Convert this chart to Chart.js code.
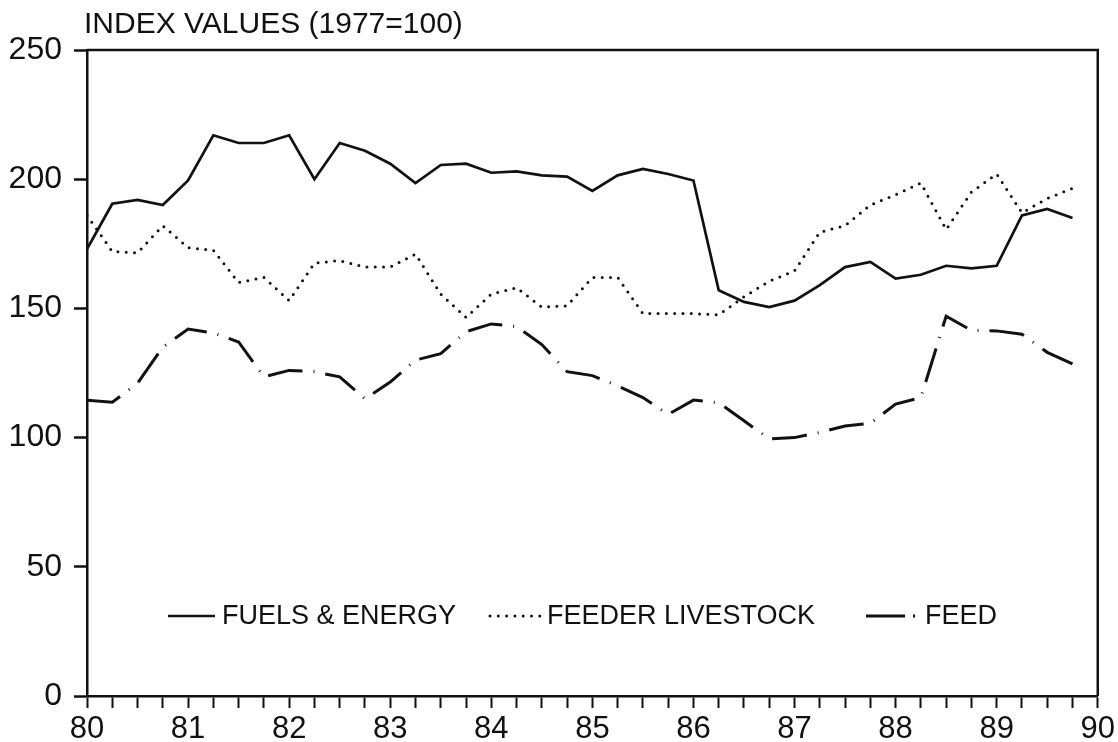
<!DOCTYPE html>
<html>
<head>
<meta charset="utf-8">
<script src="https://cdn.jsdelivr.net/npm/chart.js@4.4.0/dist/chart.umd.min.js"></script>
<style>
  html, body { margin: 0; padding: 0; background: #fff; }
  #wrap { width: 1118px; height: 742px; }
</style>
</head>
<body>
<div id="wrap"><canvas id="chart" width="1118" height="742"></canvas></div>
<script>
// quarters, 1980 to 1989
const quarters = [
  80, 80.25, 80.5, 80.75, 81, 81.25, 81.5, 81.75, 82, 82.25, 82.5, 82.75,
  83, 83.25, 83.5, 83.75, 84, 84.25, 84.5, 84.75, 85, 85.25, 85.5, 85.75,
  86, 86.25, 86.5, 86.75, 87, 87.25, 87.5, 87.75, 88, 88.25, 88.5, 88.75,
  89, 89.25, 89.5, 89.75
];

const fuelsEnergy = [
  173, 190.5, 192, 190, 199.5, 217, 214, 214, 217, 200, 214, 211,
  206, 198.5, 205.5, 206, 202.5, 203, 201.5, 201, 195.5, 201.5, 204, 202,
  199.5, 157, 152.5, 150.5, 153, 159, 166, 168, 161.5, 163, 166.5, 165.5,
  166.5, 186, 188.5, 185
];

const feederLivestock = [
  186, 172, 171.5, 182, 173.5, 172.5, 160, 162, 153, 167.5, 168.5, 166,
  166, 171, 155.5, 146.5, 155.5, 158, 150.5, 151, 162, 162, 148, 148,
  148, 147.5, 154.5, 160.5, 164.5, 179.5, 182, 190, 194, 198.5, 180.5, 195,
  202, 187, 192.5, 196.5
];

const feed = [
  114.5, 113.7, 121, 135, 142, 140.5, 137, 123.5, 126, 125.5, 123.5, 115,
  121.5, 130, 132.5, 141, 144, 143, 136, 125.5, 124, 120, 115.5, 109,
  114.5, 113.5, 106.5, 99.5, 100, 102, 104.5, 105.5, 113, 115.5, 147, 141.5,
  141.3, 140, 133, 128.5
];

const yearTicks = [80, 81, 82, 83, 84, 85, 86, 87, 88, 89, 90];
const seriesNames = ["FUELS & ENERGY", "FEEDER LIVESTOCK", "FEED"];
const chartTitle = "INDEX VALUES (1977=100)";

const FONT = '"Liberation Sans", Arial, Helvetica, sans-serif';
const INK = "#111";

function points(ys) {
  return quarters.map((q, i) => ({ x: q, y: ys[i] }));
}

const lineStyles = [
  { borderWidth: 2.7, borderDash: [], borderCapStyle: "butt" },
  { borderWidth: 3, borderDash: [0, 8.3], borderCapStyle: "round" },
  { borderWidth: 3, borderDash: [35, 11, 1, 11], borderCapStyle: "butt" }
];

// title above the plot, box frame, legend inside the plot
const extras = {
  id: "extras",
  afterDraw(chart) {
    const { ctx, chartArea: a } = chart;
    ctx.save();
    ctx.strokeStyle = INK;
    ctx.lineWidth = 2.5;
    ctx.setLineDash([]);
    ctx.beginPath();
    ctx.moveTo(a.left, a.top);
    ctx.lineTo(a.right, a.top);
    ctx.lineTo(a.right, a.bottom);
    ctx.stroke();

    ctx.fillStyle = INK;
    ctx.font = "30px " + FONT;
    ctx.textBaseline = "middle";
    ctx.textAlign = "left";
    ctx.fillText(chartTitle, a.left - 3, 25);

    const legendY = 616;
    const legendItems = [
      { x1: 168, x2: 215, tx: 222 },
      { x1: 490, x2: 543, tx: 547 },
      { x1: 866, x2: 918, tx: 925 }
    ];
    ctx.font = "27px " + FONT;
    legendItems.forEach((it, i) => {
      const st = lineStyles[i];
      ctx.lineWidth = st.borderWidth;
      ctx.lineCap = st.borderCapStyle;
      ctx.setLineDash(i === 2 ? [39, 8, 2, 8] : st.borderDash);
      ctx.beginPath();
      ctx.moveTo(it.x1, legendY);
      ctx.lineTo(it.x2, legendY);
      ctx.stroke();
      ctx.setLineDash([]);
      ctx.fillText(seriesNames[i], it.tx, legendY + 1);
    });
    ctx.restore();
  }
};

const datasets = [fuelsEnergy, feederLivestock, feed].map((ys, i) => ({
  label: seriesNames[i],
  data: points(ys),
  borderColor: INK,
  backgroundColor: INK,
  pointRadius: 0,
  tension: 0,
  fill: false,
  ...lineStyles[i]
}));

new Chart(document.getElementById("chart"), {
  type: "line",
  data: { datasets },
  options: {
    responsive: false,
    animation: false,
    layout: { padding: { top: 50, right: 19, left: 0, bottom: 0 } },
    plugins: { legend: { display: false }, tooltip: { enabled: false }, title: { display: false } },
    scales: {
      x: {
        type: "linear",
        min: 80,
        max: 90,
        afterFit(scale) { scale.height = 46; },
        ticks: {
          stepSize: 0.25,
          autoSkip: false,
          maxRotation: 0,
          padding: 3,
          color: INK,
          font: { family: FONT, size: 31 },
          callback: v => yearTicks.includes(v) ? String(v) : ""
        },
        grid: { drawOnChartArea: false, drawTicks: true, tickLength: 12, tickColor: INK, tickWidth: 2 },
        border: { display: true, color: INK, width: 2.5 }
      },
      y: {
        min: 0,
        max: 250,
        afterFit(scale) { scale.width = 87; },
        ticks: {
          stepSize: 50,
          padding: 12,
          color: INK,
          font: { family: FONT, size: 32 }
        },
        grid: { drawOnChartArea: false, drawTicks: true, tickLength: 13, tickColor: INK, tickWidth: 2.5 },
        border: { display: true, color: INK, width: 2.5 }
      }
    }
  },
  plugins: [extras]
});
</script>
</body>
</html>
